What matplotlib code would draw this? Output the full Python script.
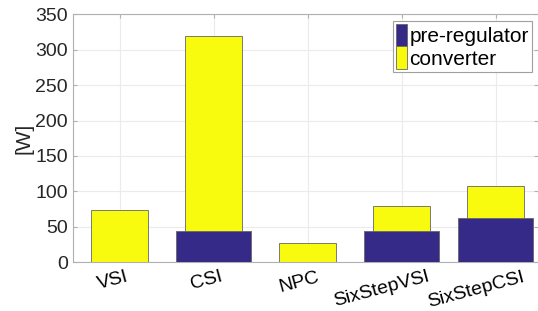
import matplotlib
matplotlib.use("Agg")
import matplotlib.pyplot as plt
import numpy as np

plt.rcParams["font.family"] = ["Liberation Sans", "DejaVu Sans"]

categories = ["VSI", "CSI", "NPC", "SixStepVSI", "SixStepCSI"]
converter = [73, 319, 27, 79, 108]
pre_regulator = [0, 44, 0, 44, 62]

blue = "#352a87"
yellow = "#f9fb0e"

fig = plt.figure(figsize=(5.38, 3.11), dpi=100)
ax = fig.add_axes([0.135, 0.157, 0.865, 0.797])

x = np.arange(1, len(categories) + 1)
ax.bar(x, converter, width=0.6, color=yellow, edgecolor="#666666",
       linewidth=0.6, label="converter", zorder=2)
ax.bar(x, pre_regulator, width=0.8, color=blue, edgecolor="#666666",
       linewidth=0.6, label="pre-regulator", zorder=3)

ax.set_xlim(0.5, 5.45)
ax.set_ylim(0, 350)
ax.set_yticks(np.arange(0, 351, 50))
ax.set_xticks(x)
ax.set_xticklabels([])
ax.tick_params(axis="y", labelsize=14)
ax.tick_params(direction="in", top=True, right=True, length=3,
               color="#b0b0b0", labelcolor="#262626")
ax.set_ylabel("[W]", fontsize=15, color="#262626", labelpad=1)

ax.grid(True, color="#ebebeb", linewidth=0.8, zorder=0)
ax.set_axisbelow(True)
for side in ["left", "bottom", "top", "right"]:
    ax.spines[side].set_color("#b0b0b0")
    ax.spines[side].set_linewidth(0.8)
ax.spines["right"].set_visible(False)

handles, labels = ax.get_legend_handles_labels()
leg = ax.legend(handles[::-1], labels[::-1], loc="upper right", fontsize=15,
                handlelength=0.55, handleheight=1.3, handletextpad=0.1,
                borderpad=0.15, labelspacing=0.0, borderaxespad=0.3,
                fancybox=False, framealpha=1, edgecolor="#a0a0a0")
leg.get_frame().set_linewidth(0.8)

# rotated category labels, nudged left of the tick like MATLAB does
fig.canvas.draw()
renderer = fig.canvas.get_renderer()
px_per_unit = ax.transData.transform((1, 0))[0] - ax.transData.transform((0, 0))[0]
trans = ax.get_xaxis_transform()
for xi, name in zip(x, categories):
    t = ax.text(xi, -0.025, name, transform=trans, rotation=15, fontsize=14,
                ha="center", va="top", color="black")
    w = t.get_window_extent(renderer).width
    t.set_x(xi - 0.2 * w / px_per_unit)

fig.savefig("out.png", dpi=100)
